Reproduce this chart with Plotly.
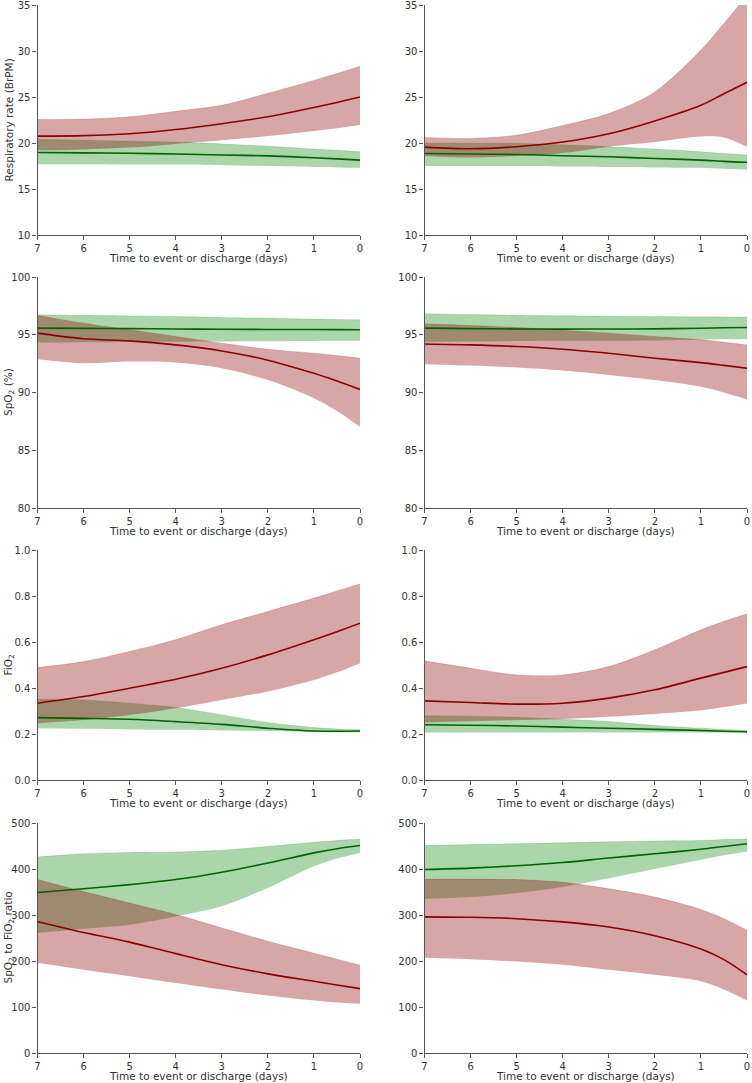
import plotly.graph_objects as go

# ---- data ----
X = [7, 6, 5, 4, 3, 2, 1, 0.5, 0]

# Respiratory rate, left
rr_l_red = [20.75, 20.8, 21.0, 21.47, 22.1, 22.85, 23.86, 24.4, 25.0]
rr_l_red_hi = [22.55, 22.6, 22.85, 23.45, 24.1, 25.4, 26.8, 27.55, 28.35]
rr_l_red_lo = [19.2, 19.3, 19.5, 19.9, 20.3, 20.75, 21.3, 21.6, 21.95]
rr_l_grn = [18.97, 18.93, 18.88, 18.8, 18.7, 18.6, 18.4, 18.27, 18.14]
rr_l_grn_hi = [20.4, 20.3, 20.2, 20.1, 19.9, 19.65, 19.35, 19.2, 19.05]
rr_l_grn_lo = [17.7, 17.68, 17.66, 17.65, 17.58, 17.5, 17.4, 17.35, 17.3]

# Respiratory rate, right
rr_r_red = [19.55, 19.37, 19.6, 20.1, 21.0, 22.4, 24.1, 25.35, 26.6]
rr_r_red_hi = [20.6, 20.5, 20.85, 21.9, 23.2, 25.55, 30.1, 33.0, 36.0]
rr_r_red_lo = [18.6, 18.43, 18.6, 18.9, 19.6, 20.1, 20.7, 20.6, 19.6]
rr_r_grn = [18.86, 18.8, 18.75, 18.62, 18.5, 18.32, 18.14, 18.0, 17.9]
rr_r_grn_hi = [20.0, 19.98, 19.95, 19.8, 19.6, 19.35, 19.05, 18.85, 18.7]
rr_r_grn_lo = [17.5, 17.5, 17.5, 17.45, 17.4, 17.35, 17.3, 17.2, 17.1]

# SpO2, left
sp_l_red = [95.14, 94.65, 94.47, 94.12, 93.6, 92.8, 91.66, 91.0, 90.27]
sp_l_red_hi = [96.67, 96.0, 95.43, 94.85, 94.27, 93.75, 93.4, 93.2, 92.97]
sp_l_red_lo = [92.88, 92.53, 92.68, 92.59, 92.1, 91.08, 89.5, 88.4, 87.03]
sp_l_grn = [95.57, 95.55, 95.53, 95.5, 95.48, 95.46, 95.45, 95.44, 95.43]
sp_l_grn_hi = [96.73, 96.68, 96.63, 96.58, 96.5, 96.43, 96.36, 96.33, 96.3]
sp_l_grn_lo = [94.33, 94.35, 94.38, 94.4, 94.42, 94.44, 94.46, 94.47, 94.47]

# SpO2, right
sp_r_red = [94.2, 94.12, 93.98, 93.75, 93.4, 92.97, 92.59, 92.35, 92.1]
sp_r_red_hi = [95.95, 95.8, 95.63, 95.4, 95.14, 94.85, 94.56, 94.35, 94.12]
sp_r_red_lo = [92.45, 92.33, 92.16, 91.9, 91.52, 91.08, 90.5, 90.0, 89.4]
sp_r_grn = [95.57, 95.53, 95.5, 95.49, 95.5, 95.51, 95.56, 95.6, 95.63]
sp_r_grn_hi = [96.82, 96.75, 96.69, 96.64, 96.6, 96.57, 96.55, 96.54, 96.53]
sp_r_grn_lo = [94.4, 94.42, 94.45, 94.47, 94.48, 94.5, 94.56, 94.6, 94.64]

# FiO2, left
fi_l_red = [0.334, 0.363, 0.399, 0.438, 0.486, 0.544, 0.61, 0.645, 0.682]
fi_l_red_hi = [0.489, 0.515, 0.559, 0.61, 0.675, 0.733, 0.791, 0.822, 0.852]
fi_l_red_lo = [0.247, 0.261, 0.283, 0.312, 0.348, 0.385, 0.435, 0.468, 0.508]
fi_l_grn = [0.271, 0.268, 0.264, 0.254, 0.242, 0.225, 0.213, 0.212, 0.213]
fi_l_grn_hi = [0.351, 0.348, 0.334, 0.315, 0.283, 0.25, 0.228, 0.222, 0.218]
fi_l_grn_lo = [0.225, 0.223, 0.22, 0.218, 0.215, 0.213, 0.209, 0.208, 0.208]

# FiO2, right
fi_r_red = [0.344, 0.337, 0.33, 0.334, 0.356, 0.392, 0.443, 0.468, 0.493]
fi_r_red_hi = [0.518, 0.486, 0.457, 0.457, 0.493, 0.566, 0.653, 0.69, 0.723]
fi_r_red_lo = [0.25, 0.255, 0.26, 0.265, 0.275, 0.287, 0.303, 0.317, 0.333]
fi_r_grn = [0.24, 0.238, 0.235, 0.23, 0.225, 0.22, 0.215, 0.212, 0.21]
fi_r_grn_hi = [0.279, 0.277, 0.273, 0.264, 0.254, 0.237, 0.225, 0.22, 0.215]
fi_r_grn_lo = [0.206, 0.206, 0.206, 0.206, 0.206, 0.206, 0.206, 0.206, 0.206]

# SpO2 to FiO2 ratio, left
sf_l_red = [286, 262, 241, 216, 192, 172, 156, 148, 140]
sf_l_red_hi = [377, 351, 326, 301, 272, 243, 217, 204, 191]
sf_l_red_lo = [196, 181, 167, 152, 138, 125, 114, 110, 107]
sf_l_grn = [349, 357, 366, 377, 393, 413, 435, 444, 451]
sf_l_grn_hi = [426, 433, 436, 437, 441, 449, 458, 462, 465]
sf_l_grn_lo = [261, 270, 279, 297, 319, 359, 406, 423, 435]

# SpO2 to FiO2 ratio, right
sf_r_red = [296, 295, 292, 285, 274, 255, 226, 203, 170]
sf_r_red_hi = [378, 378, 377, 371, 357, 339, 312, 292, 267]
sf_r_red_lo = [207, 204, 199, 192, 181, 170, 156, 138, 114]
sf_r_grn = [399, 402, 407, 414, 424, 433, 443, 449, 455]
sf_r_grn_hi = [451, 453, 455, 457, 459, 461, 462, 464, 465]
sf_r_grn_lo = [335, 339, 348, 361, 380, 400, 420, 430, 438]

X_TICKS = [7, 6, 5, 4, 3, 2, 1, 0]
X_TITLE = "Time to event or discharge (days)"
Y_TITLES = ["Respiratory rate (BrPM)", "SpO<sub>2</sub> (%)", "FiO<sub>2</sub>",
            "SpO<sub>2</sub> to FiO<sub>2</sub> ratio"]
Y_RANGES = [[10, 35], [80, 100], [0, 1.0], [0, 500]]
Y_TICKS = [[10, 15, 20, 25, 30, 35], [80, 85, 90, 95, 100],
           [0.0, 0.2, 0.4, 0.6, 0.8, 1.0], [0, 100, 200, 300, 400, 500]]
Y_TICKTEXT = [None, None, ["0.0", "0.2", "0.4", "0.6", "0.8", "1.0"], None]

panels = [
    (rr_l_red, rr_l_red_hi, rr_l_red_lo, rr_l_grn, rr_l_grn_hi, rr_l_grn_lo),
    (rr_r_red, rr_r_red_hi, rr_r_red_lo, rr_r_grn, rr_r_grn_hi, rr_r_grn_lo),
    (sp_l_red, sp_l_red_hi, sp_l_red_lo, sp_l_grn, sp_l_grn_hi, sp_l_grn_lo),
    (sp_r_red, sp_r_red_hi, sp_r_red_lo, sp_r_grn, sp_r_grn_hi, sp_r_grn_lo),
    (fi_l_red, fi_l_red_hi, fi_l_red_lo, fi_l_grn, fi_l_grn_hi, fi_l_grn_lo),
    (fi_r_red, fi_r_red_hi, fi_r_red_lo, fi_r_grn, fi_r_grn_hi, fi_r_grn_lo),
    (sf_l_red, sf_l_red_hi, sf_l_red_lo, sf_l_grn, sf_l_grn_hi, sf_l_grn_lo),
    (sf_r_red, sf_r_red_hi, sf_r_red_lo, sf_r_grn, sf_r_grn_hi, sf_r_grn_lo),
]

# ---- styling ----
W, H = 752, 1083
RED_LINE = "#8B0000"
GRN_LINE = "#006400"
RED_FILL = "rgba(139,0,0,0.35)"
GRN_FILL = "rgba(0,128,0,0.33)"
AX_COL = "#555555"
TXT_COL = "#333333"
FONT = "DejaVu Sans"

col_x = [(37.5, 360), (424.5, 747)]
row_y = [(5, 235), (277, 508), (550, 780), (823, 1053)]

fig = go.Figure()
layout = dict(
    width=W, height=H, margin=dict(l=0, r=0, t=0, b=0),
    paper_bgcolor="white", plot_bgcolor="white", showlegend=False,
    font=dict(family=FONT, size=10, color=TXT_COL),
)
annotations = []

for i, (red, red_hi, red_lo, grn, grn_hi, grn_lo) in enumerate(panels):
    r, c = divmod(i, 2)
    n = i + 1
    xa = "x" if n == 1 else f"x{n}"
    ya = "y" if n == 1 else f"y{n}"
    common = dict(xaxis=xa, yaxis=ya, x=X, hoverinfo="skip")
    ln = dict(shape="spline", smoothing=0.9)
    # green band
    fig.add_trace(go.Scatter(y=grn_lo, mode="lines", line=dict(width=0, color=GRN_FILL, **ln), **common))
    fig.add_trace(go.Scatter(y=grn_hi, mode="lines", fill="tonexty", fillcolor=GRN_FILL,
                             line=dict(width=0.5, color=GRN_FILL, **ln), **common))
    # red band
    fig.add_trace(go.Scatter(y=red_lo, mode="lines", line=dict(width=0, color=RED_FILL, **ln), **common))
    fig.add_trace(go.Scatter(y=red_hi, mode="lines", fill="tonexty", fillcolor=RED_FILL,
                             line=dict(width=0.5, color=RED_FILL, **ln), **common))
    # mean lines
    fig.add_trace(go.Scatter(y=red, mode="lines", line=dict(width=1.6, color=RED_LINE, **ln), **common))
    fig.add_trace(go.Scatter(y=grn, mode="lines", line=dict(width=1.6, color=GRN_LINE, **ln), **common))

    x0, x1 = col_x[c]
    y0, y1 = row_y[r]
    xkey = "xaxis" if n == 1 else f"xaxis{n}"
    ykey = "yaxis" if n == 1 else f"yaxis{n}"
    layout[xkey] = dict(
        domain=[x0 / W, x1 / W], anchor=ya, range=[7, 0], tickvals=X_TICKS,
        showline=True, linecolor=AX_COL, linewidth=1.2, ticks="outside", ticklen=4,
        tickcolor=AX_COL, tickwidth=1.2, showgrid=False, zeroline=False,
        tickfont=dict(size=10, color=TXT_COL), automargin=False,
        ticklabeloverflow="allow",
    )
    yd = dict(
        domain=[1 - y1 / H, 1 - y0 / H], anchor=xa, range=Y_RANGES[r], tickvals=Y_TICKS[r],
        showline=True, linecolor=AX_COL, linewidth=1.2, ticks="outside", ticklen=4,
        tickcolor=AX_COL, tickwidth=1.2, showgrid=False, zeroline=False,
        tickfont=dict(size=10, color=TXT_COL), automargin=False,
        ticklabeloverflow="allow",
    )
    if Y_TICKTEXT[r] is not None:
        yd["ticktext"] = Y_TICKTEXT[r]
    layout[ykey] = yd
    # x-axis title
    annotations.append(dict(
        text=X_TITLE, xref="paper", yref="paper", x=(x0 + x1) / 2 / W, y=1 - (y1 + 23) / H,
        showarrow=False, xanchor="center", yanchor="middle",
        font=dict(size=10.5, color=TXT_COL, family=FONT),
    ))
    if c == 0:
        annotations.append(dict(
            text=Y_TITLES[r], xref="paper", yref="paper", x=8.5 / W, y=1 - (y0 + y1) / 2 / H,
            textangle=-90, showarrow=False, xanchor="center", yanchor="middle",
            font=dict(size=10.5, color=TXT_COL, family=FONT),
        ))

layout["annotations"] = annotations
fig.update_layout(**layout)
fig.write_html("out.html", config={"displayModeBar": False},
               post_script="document.body.style.margin='0px';")
